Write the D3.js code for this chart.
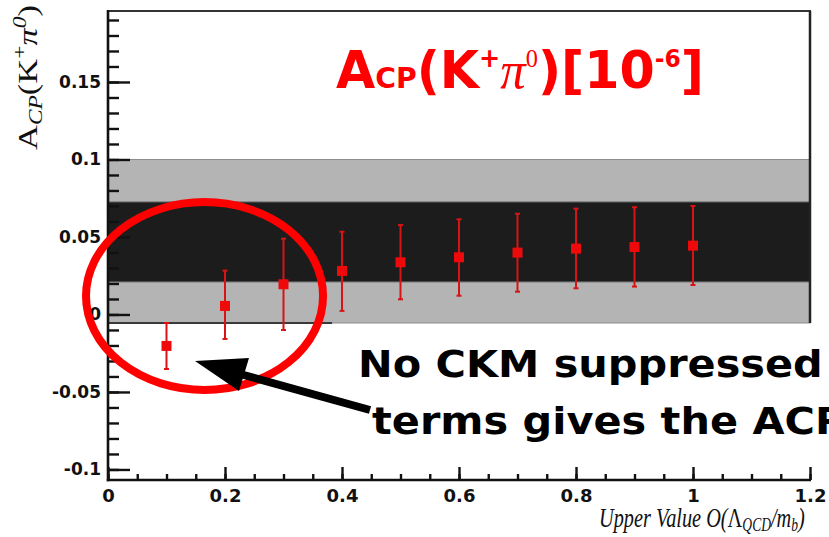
<!DOCTYPE html>
<html>
<head>
<meta charset="utf-8">
<script src="https://cdn.jsdelivr.net/npm/d3@7/dist/d3.min.js"></script>
<style>
  body { margin: 0; background: #fff; }
  svg { display: block; }
</style>
</head>
<body>
<div id="chart"></div>
<script>
// --- data ---
const xValues   = [0.1, 0.2, 0.3, 0.4, 0.5, 0.6, 0.7, 0.8, 0.9, 1.0];
const acpValues = [-0.0203, 0.0055, 0.0195, 0.0281, 0.0337, 0.0369, 0.0399, 0.0425, 0.0435, 0.0444];
const errUp     = [0.0148, 0.0228, 0.0294, 0.0253, 0.0240, 0.0245, 0.0251, 0.0258, 0.0257, 0.0256];
const errDown   = [0.0149, 0.0213, 0.0295, 0.0258, 0.0239, 0.0248, 0.0252, 0.0256, 0.0255, 0.0254];

// experimental bands (outer grey, inner dark) and the short dark edge line
const outerBand = [-0.0055, 0.1];
const innerBand = [0.021, 0.0726];
const edgeLineX = [0, 0.383];

const yMajor = [-0.1, -0.05, 0, 0.05, 0.1, 0.15];
const yLabels = ["-0.1", "-0.05", "0", "0.05", "0.1", "0.15"];
const xMajor = [0, 0.2, 0.4, 0.6, 0.8, 1, 1.2];
const xLabels = ["0", "0.2", "0.4", "0.6", "0.8", "1", "1.2"];

const xDomain = [0, 1.2];
const yDomain = [-0.1068, 0.1958];

// --- layout ---
const W = 829, H = 537;
const plot = {left: 108, right: 810, top: 11, bottom: 480};

const svg = d3.select("#chart").append("svg").attr("width", W).attr("height", H);

const x = d3.scaleLinear().domain(xDomain).range([plot.left, plot.right]);
const y = d3.scaleLinear().domain(yDomain).range([plot.bottom, plot.top]);

// bands
svg.append("rect")
    .attr("x", x(xDomain[0])).attr("width", x(xDomain[1]) - x(xDomain[0]))
    .attr("y", y(outerBand[1])).attr("height", y(outerBand[0]) - y(outerBand[1]))
    .attr("fill", "#b4b4b4").attr("stroke", "#8c8c8c").attr("stroke-width", 1);
svg.append("rect")
    .attr("x", x(xDomain[0])).attr("width", x(xDomain[1]) - x(xDomain[0]))
    .attr("y", y(innerBand[1])).attr("height", y(innerBand[0]) - y(innerBand[1]))
    .attr("fill", "#1c1c1c").attr("stroke", "#6a6a6a").attr("stroke-width", 1);
svg.append("line")
    .attr("x1", x(edgeLineX[0])).attr("x2", x(edgeLineX[1]))
    .attr("y1", y(outerBand[0])).attr("y2", y(outerBand[0]))
    .attr("stroke", "#3a3a3a").attr("stroke-width", 2.2);

// frame (top and the right edge down to the band)
svg.append("line")
    .attr("x1", plot.left).attr("x2", plot.right + 1)
    .attr("y1", plot.top).attr("y2", plot.top)
    .attr("stroke", "#333").attr("stroke-width", 2.2);
svg.append("line")
    .attr("x1", plot.right).attr("x2", plot.right)
    .attr("y1", plot.top).attr("y2", y(outerBand[0]))
    .attr("stroke", "#222").attr("stroke-width", 2.5);

// y axis
const yMinor = d3.range(-10, 20).map(i => i / 100);
svg.append("g")
    .attr("class", "axis axis-y-minor")
    .attr("transform", "translate(" + plot.left + ",0)")
    .call(d3.axisLeft(y).tickValues(yMinor).tickSize(-11).tickFormat(""));
svg.append("g")
    .attr("class", "axis axis-y")
    .attr("transform", "translate(" + plot.left + ",0)")
    .call(d3.axisLeft(y).tickValues(yMajor).tickSize(-22).tickPadding(7)
        .tickFormat((d, i) => yLabels[i]));

// x axis
const xMinor = d3.range(0, 25).map(i => i * 0.05);
svg.append("g")
    .attr("class", "axis axis-x-minor")
    .attr("transform", "translate(0," + plot.bottom + ")")
    .call(d3.axisBottom(x).tickValues(xMinor).tickSize(-6).tickFormat(""));
svg.append("g")
    .attr("class", "axis axis-x")
    .attr("transform", "translate(0," + plot.bottom + ")")
    .call(d3.axisBottom(x).tickValues(xMajor).tickSize(-13).tickPadding(6)
        .tickFormat((d, i) => xLabels[i]));

svg.selectAll(".axis .domain").remove();
svg.selectAll(".axis line").attr("stroke", "#111").attr("stroke-width", 2.4);
svg.selectAll(".axis text")
    .attr("fill", "#111")
    .style("font-family", "'DejaVu Sans', sans-serif")
    .style("font-weight", "bold");
svg.selectAll(".axis-y text").style("font-size", "17px");
svg.selectAll(".axis-x text").style("font-size", "18px").attr("dy", "0.9em");

svg.append("line")
    .attr("x1", plot.left).attr("x2", plot.left)
    .attr("y1", plot.top - 1).attr("y2", plot.bottom + 1.2)
    .attr("stroke", "#111").attr("stroke-width", 2.6);
svg.append("line")
    .attr("x1", plot.left - 1.2).attr("x2", plot.right + 1)
    .attr("y1", plot.bottom).attr("y2", plot.bottom)
    .attr("stroke", "#111").attr("stroke-width", 2.6);

// points with error bars
const points = xValues.map((v, i) => ({x: v, y: acpValues[i], up: errUp[i], down: errDown[i]}));
const marks = svg.append("g").attr("class", "marks");
const pt = marks.selectAll(".pt").data(points).enter().append("g").attr("class", "pt");
pt.append("line")
    .attr("x1", d => x(d.x)).attr("x2", d => x(d.x))
    .attr("y1", d => y(d.y + d.up)).attr("y2", d => y(d.y - d.down))
    .attr("stroke", "#d61414").attr("stroke-width", 2);
pt.append("line")
    .attr("x1", d => x(d.x) - 2.5).attr("x2", d => x(d.x) + 2.5)
    .attr("y1", d => y(d.y + d.up)).attr("y2", d => y(d.y + d.up))
    .attr("stroke", "#d61414").attr("stroke-width", 2);
pt.append("line")
    .attr("x1", d => x(d.x) - 2.5).attr("x2", d => x(d.x) + 2.5)
    .attr("y1", d => y(d.y - d.down)).attr("y2", d => y(d.y - d.down))
    .attr("stroke", "#d61414").attr("stroke-width", 2);
pt.append("rect")
    .attr("x", d => x(d.x) - 5).attr("y", d => y(d.y) - 5)
    .attr("width", 10).attr("height", 10)
    .attr("fill", "#ee0a0a");

// helper: stretch a text horizontally to a measured width
function fitWidth(sel, width, x0) {
    const bw = sel.node().getBBox().width;
    sel.attr("transform", "translate(" + x0 + ",0) scale(" + (width / bw) + ",1)");
    return width / bw;
}

// title
const title = svg.append("text")
    .attr("x", 0).attr("y", 88.5)
    .attr("fill", "#ff0000")
    .style("font-family", "'DejaVu Sans', sans-serif")
    .style("font-weight", "bold")
    .style("font-size", "52px");
title.append("tspan").text("A");
title.append("tspan").style("font-size", "29px").text("CP");
title.append("tspan").text("(K");
title.append("tspan").style("font-size", "26px").attr("dy", -21).text("+");
title.append("tspan").style("font-family", "'Liberation Serif', serif").style("font-weight", "normal")
    .style("font-style", "italic").attr("dy", 21).text("π");
title.append("tspan").style("font-family", "'Liberation Serif', serif").style("font-weight", "normal")
    .style("font-size", "25px").attr("dy", -21).text("0");
title.append("tspan").attr("dy", 21).text(")[10");
title.append("tspan").style("font-size", "24px").attr("dy", -21).text("-6");
title.append("tspan").attr("dy", 21).text("]");
fitWidth(title, 368, 336);

// y axis title
const yTitle = svg.append("text")
    .attr("x", 0).attr("y", 0)
    .attr("fill", "#111")
    .style("font-family", "'Liberation Serif', serif")
    .style("font-size", "28px");
yTitle.append("tspan").text("A");
yTitle.append("tspan").style("font-style", "italic").style("font-size", "19px").attr("dy", 5).text("CP");
yTitle.append("tspan").attr("dy", -5).text("(K");
yTitle.append("tspan").style("font-size", "19px").attr("dy", -11).text("+");
yTitle.append("tspan").style("font-style", "italic").attr("dy", 11).text("π");
yTitle.append("tspan").style("font-style", "italic").style("font-size", "19px").attr("dy", -11).text("0");
yTitle.append("tspan").attr("dy", 11).text(")");
const yb = yTitle.node().getBBox().width;
yTitle.attr("transform", "translate(37,150) rotate(-90) scale(" + (145 / yb) + ",1)");

// x axis title
const xTitle = svg.append("text")
    .attr("x", 0).attr("y", 527)
    .attr("fill", "#111")
    .style("font-family", "'Liberation Serif', serif")
    .style("font-style", "italic")
    .style("font-size", "27px");
xTitle.append("tspan").text("Upper Value O(");
xTitle.append("tspan").style("font-style", "normal").text("Λ");
xTitle.append("tspan").style("font-size", "18px").attr("dy", 4).text("QCD");
xTitle.append("tspan").attr("dy", -4).text("/m");
xTitle.append("tspan").style("font-size", "18px").attr("dy", 4).text("b");
xTitle.append("tspan").attr("dy", -4).text(")");
fitWidth(xTitle, 206, 599);

// annotation: ellipse, arrow and text
svg.append("ellipse")
    .attr("cx", x(0.165)).attr("cy", y(0.0119))
    .attr("rx", x(0.2026) - x(0)).attr("ry", y(0) - y(0.0606))
    .attr("fill", "none").attr("stroke", "#ff0000").attr("stroke-width", 8);

svg.append("line")
    .attr("x1", 370).attr("y1", 410).attr("x2", 240).attr("y2", 374)
    .attr("stroke", "#000").attr("stroke-width", 8);
svg.append("polygon")
    .attr("points", "195,361 249,358 239,391")
    .attr("fill", "#000");

const noteStyle = s => s.attr("fill", "#000")
    .style("font-family", "'DejaVu Sans', sans-serif")
    .style("font-weight", "bold")
    .style("font-size", "37px");
const note1 = svg.append("text").attr("x", 0).attr("y", 377).call(noteStyle).text("No CKM suppressed");
const k = fitWidth(note1, 465, 358);
const note2 = svg.append("text").attr("x", 0).attr("y", 434).call(noteStyle).text("terms gives the ACP");
note2.attr("transform", "translate(372,0) scale(" + k + ",1)");
</script>
</body>
</html>
